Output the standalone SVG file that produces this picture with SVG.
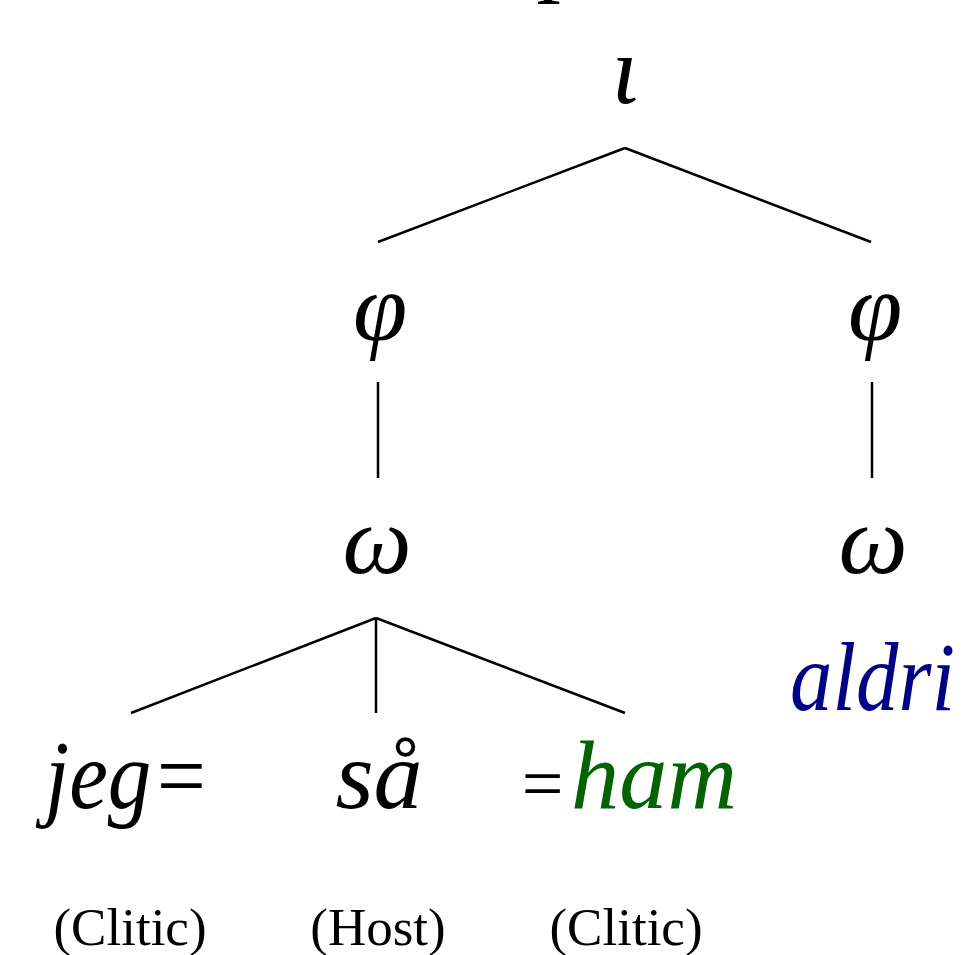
<svg xmlns="http://www.w3.org/2000/svg" width="969" height="955" viewBox="0 0 969 955">
<style>
.n{font-family:"Liberation Serif","DejaVu Serif",serif;font-style:italic;font-size:98px;fill:#000;text-anchor:middle}
.s{text-anchor:start}
.g{font-family:"Liberation Serif","DejaVu Serif",serif;font-size:53px;fill:#000;text-anchor:middle}
.e{stroke:#000;stroke-width:2.5;fill:none;stroke-linecap:butt}
</style>
<rect width="969" height="955" fill="#fff"/>
<g id="top-fragment"><text class="n" x="568" y="-17">p</text></g>
<g id="iota"><text class="n" x="625" y="103">ι</text></g>
<g id="phi-left"><text class="n" x="380" y="340">φ</text></g>
<g id="phi-right"><text class="n" x="875" y="340">φ</text></g>
<g id="omega-left"><text class="n" x="377" y="573">ω</text></g>
<g id="omega-right"><text class="n" x="873" y="573">ω</text></g>
<g id="aldri"><text class="n s" x="790" y="710" style="fill:#00008b" textLength="165" lengthAdjust="spacingAndGlyphs">aldri</text></g>
<g id="jeg"><text class="n s" x="45" y="808" textLength="165" lengthAdjust="spacingAndGlyphs">jeg=</text></g>
<g id="saa"><text class="n" x="379" y="808">så</text></g>
<g id="ham"><text class="n" x="542" y="808" style="font-size:74px">=</text><text class="n s" x="571" y="808" style="fill:#006400" textLength="166" lengthAdjust="spacingAndGlyphs">ham</text></g>
<g id="gloss-clitic-1"><text class="g" x="130" y="945">(Clitic)</text></g>
<g id="gloss-host"><text class="g" x="378" y="945">(Host)</text></g>
<g id="gloss-clitic-2"><text class="g" x="626" y="945">(Clitic)</text></g>
<g id="connectors">
<line class="e" x1="625" y1="148" x2="378" y2="242"/>
<line class="e" x1="625" y1="148" x2="871" y2="242"/>
<line class="e" x1="378" y1="382" x2="378" y2="478"/>
<line class="e" x1="872" y1="382" x2="872" y2="478"/>
<line class="e" x1="376" y1="618" x2="131" y2="713"/>
<line class="e" x1="376" y1="618" x2="376" y2="713"/>
<line class="e" x1="376" y1="618" x2="625" y2="713"/>
</g>
</svg>
